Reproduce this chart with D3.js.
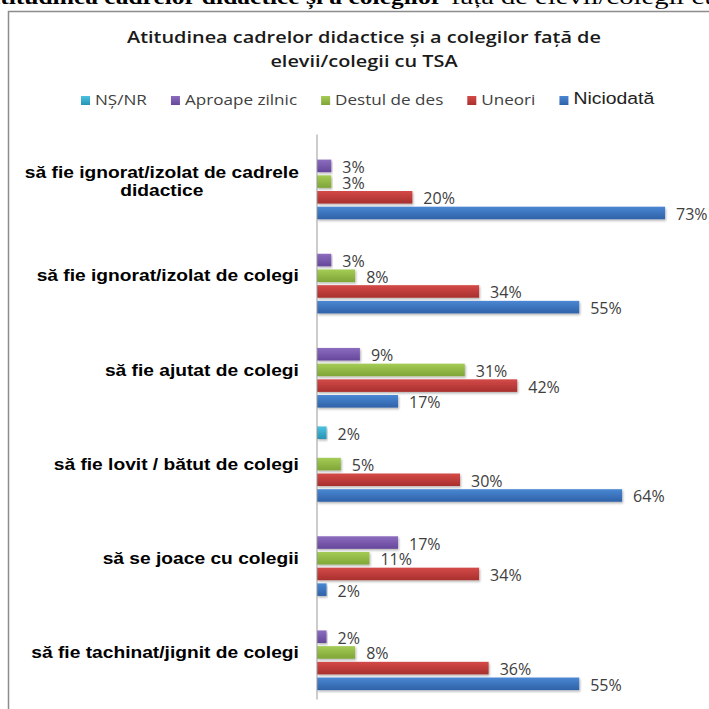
<!DOCTYPE html>
<html lang="ro">
<head>
<meta charset="UTF-8">
<script src="https://d3js.org/d3.v7.min.js"></script>
<title>Atitudinea cadrelor didactice</title>
<style>
  body { margin:0; background:#fff; }
  .cat { font-family:"Liberation Sans", Arial, sans-serif; font-weight:bold; font-size:16px; fill:#000; }
  .val { font-family:"Open Sans", sans-serif; font-size:16px; fill:#404040; }
  .title { font-family:"Open Sans", sans-serif; font-weight:600; font-size:17px; fill:#1a1a1a; }
  .leg { font-family:"Open Sans", sans-serif; font-size:15px; fill:#404040; }
</style>
</head>
<body>
<svg id="chart" width="709" height="709"></svg>
<script>
// categories, top to bottom ("\n" = line break in the axis label)
const categories = [
  "să fie ignorat/izolat de cadrele\ndidactice",
  "să fie ignorat/izolat de colegi",
  "să fie ajutat de colegi",
  "să fie lovit / bătut de colegi",
  "să se joace cu colegii",
  "să fie tachinat/jignit de colegi"
];
const seriesNames = ["NȘ/NR", "Aproape zilnic", "Destul de des", "Uneori", "Niciodată"];
// values in %, null = no bar
const nsnr      = [null, null, null, 2, null, null];
const aproape   = [3, 3, 9, null, 17, 2];
const destul    = [3, 8, 31, 5, 11, 8];
const uneori    = [20, 34, 42, 30, 34, 36];
const niciodata = [73, 55, 17, 64, 2, 55];
const seriesValues = [nsnr, aproape, destul, uneori, niciodata];

const colors = [
  ["#4cc3e0", "#2593b5"],
  ["#8b6cbf", "#66479a"],
  ["#a5cc55", "#7fa537"],
  ["#d44a48", "#a8302e"],
  ["#4a87d3", "#2f62a8"]
];

// the source picture is stretched sideways a bit
function stretch(sel, ax, sx) {
  sel.attr("transform", "translate(" + ax + ",0) scale(" + sx + ",1) translate(" + (-ax) + ",0)");
}

const svg = d3.select("#chart");
const defs = svg.append("defs");

colors.forEach(function(c, i) {
  let g = defs.append("linearGradient").attr("id", "grad" + i)
    .attr("x1", 0).attr("y1", 0).attr("x2", 0).attr("y2", 1);
  g.append("stop").attr("offset", "0%").attr("stop-color", c[0]);
  g.append("stop").attr("offset", "100%").attr("stop-color", c[1]);
});
let shadow = defs.append("filter").attr("id", "shadow")
  .attr("x", "-5%").attr("y", "-20%").attr("width", "115%").attr("height", "160%");
shadow.append("feDropShadow").attr("dx", 1).attr("dy", 1.5)
  .attr("stdDeviation", 0.8).attr("flood-color", "#000").attr("flood-opacity", 0.3);

// the document heading cut at the top
let h1 = svg.append("text")
  .attr("x", 442).attr("y", 4)
  .attr("text-anchor", "end")
  .style("font-family", "'Liberation Serif', serif")
  .style("font-weight", "bold").style("font-size", "22px")
  .text("Atitudinea cadrelor didactice și a colegilor");
stretch(h1, 442, 1.16);
let h2 = svg.append("text")
  .attr("x", 451).attr("y", 4)
  .style("font-family", "'Liberation Serif', serif")
  .style("font-size", "22px")
  .text("față de elevii/colegii cu TSA");
stretch(h2, 451, 1.3);

// chart frame
svg.append("rect")
  .attr("x", 8.5).attr("y", 11.5)
  .attr("width", 720).attr("height", 720)
  .attr("fill", "none").attr("stroke", "#8c8c8c").attr("stroke-width", 1.5);

// title
let t1 = svg.append("text").attr("class", "title")
  .attr("x", 364).attr("y", 43).attr("text-anchor", "middle")
  .text("Atitudinea cadrelor didactice și a colegilor față de");
stretch(t1, 364, 1.17);
let t2 = svg.append("text").attr("class", "title")
  .attr("x", 364).attr("y", 67).attr("text-anchor", "middle")
  .text("elevii/colegii cu TSA");
stretch(t2, 364, 1.17);

// scales
let x = d3.scaleLinear().domain([0, 80]).range([317, 698.4]);
let y0 = d3.scaleBand().domain(categories).range([134.5, 699.5]);
let y1 = d3.scaleBand().domain(seriesNames).range([0, y0.bandwidth()])
  .paddingInner(0.2).paddingOuter(0.6);

// legend
let lx = 81;
seriesNames.forEach(function(name, i) {
  svg.append("rect")
    .attr("x", lx).attr("y", 96).attr("width", 9).attr("height", 9)
    .attr("fill", "url(#grad" + i + ")");
  let t = svg.append("text").attr("class", "leg")
    .attr("x", lx + 14).attr("y", 105).text(name);
  if (name === "Niciodată") {
    t.style("font-family", "'Liberation Sans', Arial, sans-serif")
      .style("font-size", "17px").style("fill", "#222").attr("y", 104);
  }
  stretch(t, lx + 14, 1.14);
  lx += 14 + t.node().getComputedTextLength() * 1.14 + 24;
});

// bars
let plot = svg.append("g");
categories.forEach(function(cat, ci) {
  let g = plot.append("g").attr("transform", "translate(0," + y0(cat) + ")");
  seriesNames.forEach(function(name, si) {
    let v = seriesValues[si][ci];
    if (v === null) return;
    g.append("rect")
      .attr("x", x(0)).attr("y", y1(name))
      .attr("width", x(v) - x(0)).attr("height", y1.bandwidth())
      .attr("fill", "url(#grad" + si + ")")
      .attr("filter", "url(#shadow)");
    g.append("text").attr("class", "val")
      .attr("x", x(v) + 11)
      .attr("y", y1(name) + y1.bandwidth() / 2 + 1)
      .attr("dominant-baseline", "central")
      .text(v + "%");
  });
});

// category axis line
svg.append("line")
  .attr("x1", x(0)).attr("x2", x(0))
  .attr("y1", y0.range()[0]).attr("y2", y0.range()[1])
  .attr("stroke", "#999").attr("stroke-width", 1);

// category labels (right aligned block, lines centred in the block)
const sx = 1.2;
categories.forEach(function(cat) {
  let lines = cat.split("\n");
  let cy = y0(cat) + y0.bandwidth() / 2;
  let lh = 18;
  let t = svg.append("text").attr("class", "cat").attr("text-anchor", "middle");
  lines.forEach(function(l, i) {
    t.append("tspan").attr("x", 0)
      .attr("y", cy + (i - (lines.length - 1) / 2) * lh)
      .attr("dy", "0.35em").text(l);
  });
  let w = t.node().getBBox().width * sx;
  let cx = 299 - w / 2;
  t.selectAll("tspan").attr("x", cx);
  stretch(t, cx, sx);
});
</script>
</body>
</html>
